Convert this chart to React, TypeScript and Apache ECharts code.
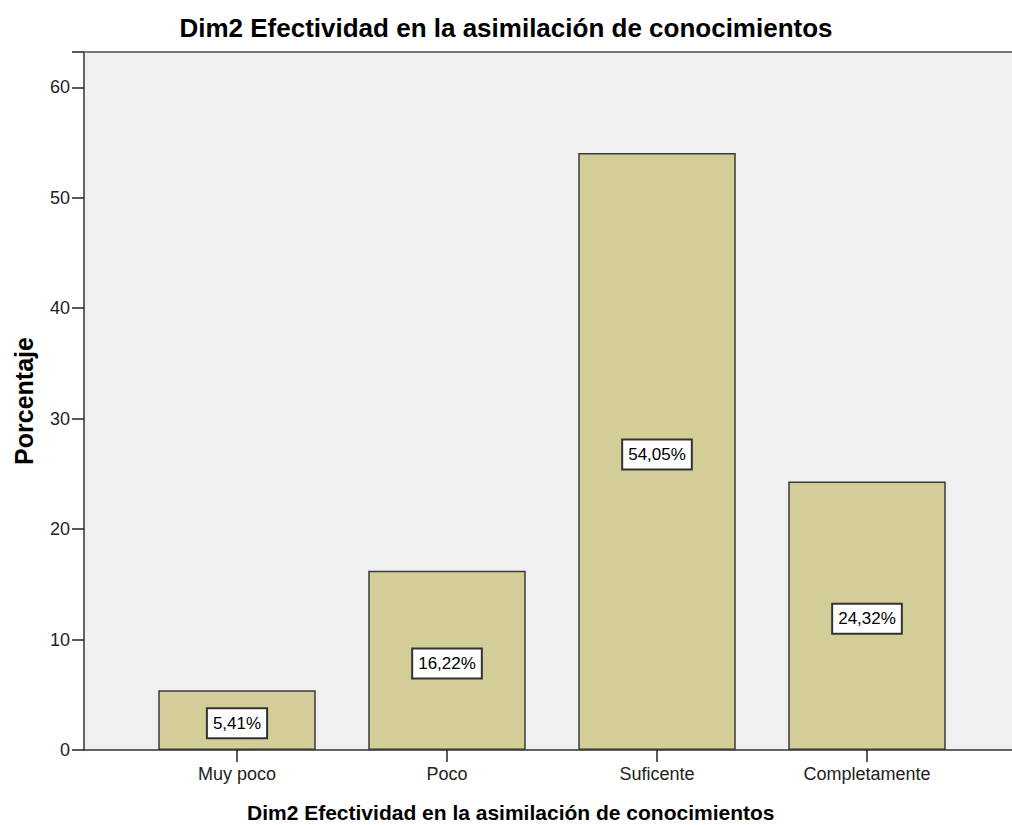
import React, { useEffect, useRef } from "react";
import * as echarts from "echarts";

const categories = ["Muy poco", "Poco", "Suficente", "Completamente"];
const percentages = [5.41, 16.22, 54.05, 24.32];
const yTicks = [0, 10, 20, 30, 40, 50, 60];
const titleText = "Dim2 Efectividad en la asimilación de conocimientos";
const xTitle = "Dim2 Efectividad en la asimilación de conocimientos";
const yTitle = "Porcentaje";

const FONT = "'Liberation Sans', Arial, sans-serif";
const Y_MAX = 63.2;

export default function App() {
  const ref = useRef<HTMLDivElement>(null);
  useEffect(() => {
    if (!ref.current) return;
    const chart = echarts.init(ref.current, undefined, { renderer: "svg" });
    chart.setOption({
      animation: false,
      backgroundColor: "#ffffff",
      textStyle: { fontFamily: FONT },
      title: [
        {
          text: titleText,
          left: "center",
          top: 10,
          textStyle: { fontFamily: FONT, fontSize: 26, fontWeight: "bold", color: "#000" },
        },
        {
          text: xTitle,
          left: 247,
          top: 802,
          padding: 0,
          textStyle: { fontFamily: FONT, fontSize: 21, fontWeight: "bold", color: "#000" },
        },
      ],
      grid: [
        {
          left: 84, right: 0, top: 52, bottom: 75,
          show: true, backgroundColor: "#f0f0f0", borderWidth: 0,
          containLabel: false, outerBoundsMode: "none",
        },
        {
          left: 132, right: 40, top: 52, bottom: 75,
          containLabel: false, outerBoundsMode: "none",
        },
      ],
      xAxis: [
        {
          gridIndex: 0, type: "value", min: 0, max: 1,
          axisLine: { show: true, lineStyle: { color: "#333", width: 1.5 } },
          axisTick: { show: false }, axisLabel: { show: false }, splitLine: { show: false },
        },
        {
          gridIndex: 0, type: "value", min: 0, max: 1, position: "top",
          axisLine: { show: true, lineStyle: { color: "#777", width: 2 } },
          axisTick: { show: false }, axisLabel: { show: false }, splitLine: { show: false },
        },
        {
          gridIndex: 1, type: "category", data: categories,
          axisLine: { show: false },
          axisTick: { show: true, alignWithLabel: true, length: 12, lineStyle: { color: "#222", width: 1.5 } },
          axisLabel: { fontFamily: FONT, fontSize: 18, color: "#222", margin: 15 },
        },
      ],
      yAxis: [
        {
          gridIndex: 0, type: "value", min: 0, max: Y_MAX, interval: 10,
          axisLine: { show: true, lineStyle: { color: "#333", width: 1.5 } },
          axisTick: { show: true, length: 12, lineStyle: { color: "#222", width: 1.5 } },
          axisLabel: {
            fontFamily: FONT, fontSize: 18, color: "#222", margin: 14,
            formatter: (v: number) => (yTicks.includes(v) ? String(v) : ""),
          },
          splitLine: { show: false },
          name: yTitle,
          nameLocation: "middle",
          nameGap: 48,
          nameTextStyle: { fontFamily: FONT, fontSize: 25, fontWeight: "bold", color: "#000" },
        },
        {
          gridIndex: 1, type: "value", min: 0, max: Y_MAX, show: false,
        },
      ],
      series: [
        {
          type: "bar",
          xAxisIndex: 2,
          yAxisIndex: 1,
          data: percentages,
          barWidth: "75%",
          itemStyle: { color: "#d3cd98", borderColor: "#3a3a3a", borderWidth: 1.5 },
          label: {
            show: true,
            position: "inside",
            offset: [0, 3],
            formatter: (p: any) => p.value.toFixed(2).replace(".", ",") + "%",
            fontFamily: FONT,
            fontSize: 17,
            color: "#000",
            backgroundColor: "#fff",
            borderColor: "#333",
            borderWidth: 2,
            padding: [6, 5, 5, 5],
          },
        },
      ],
    });
    return () => chart.dispose();
  }, []);
  return (
    <div
      ref={ref}
      style={{ position: "fixed", left: 0, top: 0, width: 1012, height: 825 }}
    />
  );
}
